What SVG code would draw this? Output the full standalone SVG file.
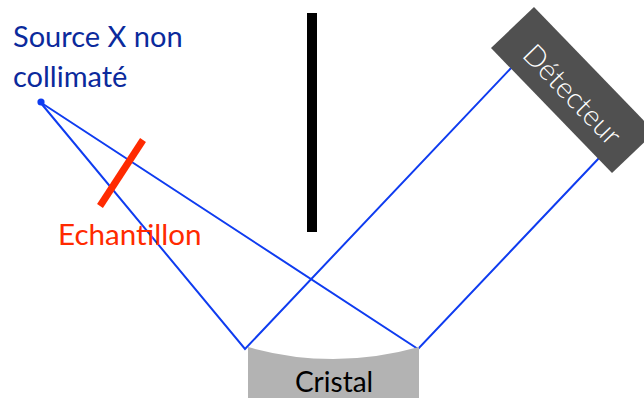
<svg xmlns="http://www.w3.org/2000/svg" width="644" height="398" viewBox="0 0 644 398">
<style>
.t{font-family:"Lato","Open Sans",sans-serif;font-size:29px}
.ray{fill:none;stroke:#0f3cf0;stroke-width:2}
</style>
<rect width="644" height="398" fill="#fff"/>
<g id="connectors">
<polyline class="ray" points="40,102 245,349 512,67"/>
<polyline class="ray" points="40,102 418,349 600,157"/>
</g>
<g id="source"><circle cx="41" cy="102" r="3.6" fill="#0f3cf0"/>
<text class="t" fill="#0b2a9c"><tspan x="13" y="47">Source X non</tspan><tspan x="13" y="87">collimaté</tspan></text></g>
<g id="echantillon"><line x1="143" y1="140" x2="100" y2="206" stroke="#ff2a00" stroke-width="7"/>
<text class="t" x="58" y="245" fill="#ff2a00" style="font-size:29.6px">Echantillon</text></g>
<g id="slit"><rect x="307" y="13" width="10" height="219" fill="#000"/></g>
<g id="detecteur"><polygon points="534,7 655,132 612,173 491,48" fill="#505050"/>
<text transform="translate(521,56) rotate(46)" font-family="Lato,sans-serif" font-weight="300" font-size="29" fill="#fff">Détecteur</text></g>
<g id="cristal"><path d="M248,347 Q333,371 419,347 V398 H248 Z" fill="#b3b3b3"/>
<text class="t" x="295" y="392" fill="#000" style="font-size:28px">Cristal</text></g>
</svg>
